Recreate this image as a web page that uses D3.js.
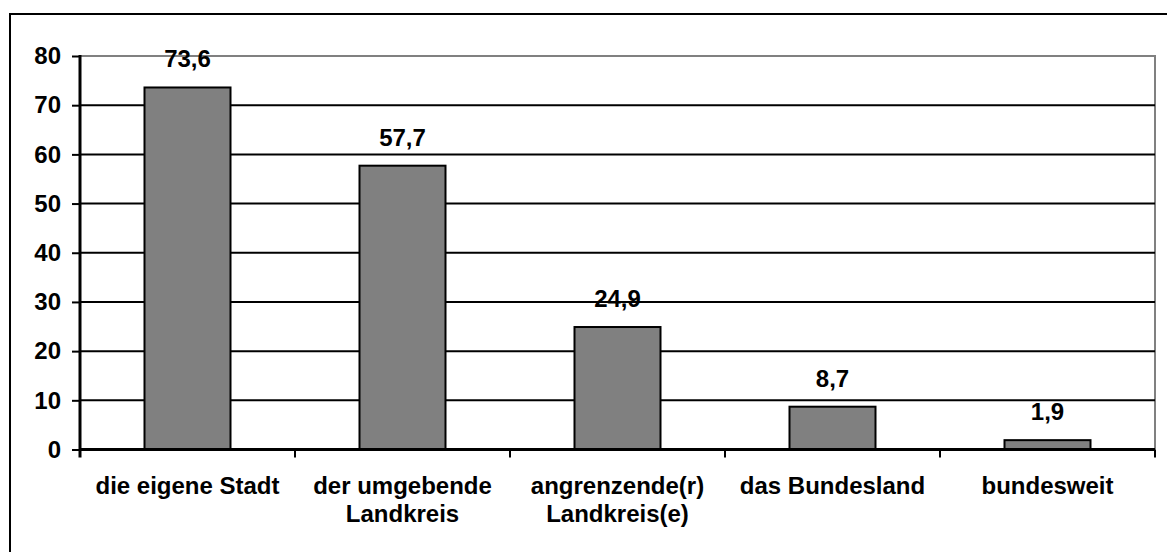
<!DOCTYPE html>
<html>
<head>
<meta charset="utf-8">
<script src="https://cdn.jsdelivr.net/npm/d3@7"></script>
<style>
  html, body { margin: 0; padding: 0; background: #fff; }
  svg { display: block; }
  text { font-family: "Liberation Sans", Arial, sans-serif; font-weight: bold; fill: #000; }
</style>
</head>
<body>
<svg id="chart" width="1167" height="552"></svg>
<script>
// Category labels (one entry per line of text)
const categories = [
  ["die eigene Stadt"],
  ["der umgebende", "Landkreis"],
  ["angrenzende(r)", "Landkreis(e)"],
  ["das Bundesland"],
  ["bundesweit"]
];
const values = [73.6, 57.7, 24.9, 8.7, 1.9];
const yTicks = [0, 10, 20, 30, 40, 50, 60, 70, 80];

const svg = d3.select("#chart");
const W = 1167, H = 552;
const plot = { left: 80, right: 1155, top: 56, bottom: 449.5 };
const fontSize = 24;

// Outer chart frame
svg.append("rect")
  .attr("x", 10).attr("y", 14)
  .attr("width", W + 20).attr("height", H + 20)
  .attr("fill", "#fff").attr("stroke", "#000").attr("stroke-width", 2);

const ids = d3.range(categories.length);
const x = d3.scaleBand().domain(ids).range([plot.left, plot.right])
  .paddingInner(0.6).paddingOuter(0.3);
const y = d3.scaleLinear().domain([0, 80]).range([plot.bottom, plot.top]);

// Plot area border (top and right in grey)
svg.append("path")
  .attr("d", `M${plot.left},${y(80)}H${plot.right}V${plot.bottom}`)
  .attr("fill", "none").attr("stroke", "#808080").attr("stroke-width", 2);

// Horizontal gridlines
svg.append("g").selectAll("line")
  .data(yTicks.filter(t => t > 0 && t < 80))
  .join("line")
  .attr("x1", plot.left).attr("x2", plot.right)
  .attr("y1", d => y(d)).attr("y2", d => y(d))
  .attr("stroke", "#000").attr("stroke-width", 2);

// Bars
svg.append("g").selectAll("rect")
  .data(values)
  .join("rect")
  .attr("x", (d, i) => x(i))
  .attr("y", d => y(d))
  .attr("width", x.bandwidth())
  .attr("height", d => y(0) - y(d))
  .attr("fill", "#808080")
  .attr("stroke", "#000").attr("stroke-width", 2);

// Value labels
const fmt = v => d3.format(".1f")(v).replace(".", ",");
svg.append("g").selectAll("text")
  .data(values)
  .join("text")
  .attr("x", (d, i) => x(i) + x.bandwidth() / 2)
  .attr("y", d => y(d) - 20)
  .attr("text-anchor", "middle")
  .attr("font-size", fontSize)
  .text(fmt);

// Y axis
const yAxis = svg.append("g")
  .attr("transform", `translate(${plot.left},0)`)
  .call(d3.axisLeft(y).tickValues(yTicks).tickSize(8).tickPadding(11).tickFormat(d3.format("d")));
yAxis.select(".domain").remove();
yAxis.selectAll(".tick line").attr("stroke", "#000").attr("stroke-width", 2);
yAxis.selectAll(".tick text")
  .attr("font-size", fontSize)
  .attr("font-family", "Liberation Sans, Arial, sans-serif")
  .attr("font-weight", "bold")
  .attr("fill", "#000");
svg.append("line")
  .attr("x1", plot.left).attr("x2", plot.left)
  .attr("y1", plot.top - 1).attr("y2", plot.bottom + 8)
  .attr("stroke", "#000").attr("stroke-width", 3);

// X axis baseline and category boundary ticks
svg.append("line")
  .attr("x1", plot.left).attr("x2", plot.right)
  .attr("y1", y(0)).attr("y2", y(0))
  .attr("stroke", "#000").attr("stroke-width", 3);
const step = x.step();
const bounds = ids.map(i => x(i) + x.bandwidth() + (step - x.bandwidth()) / 2);
svg.append("g").selectAll("line")
  .data(bounds)
  .join("line")
  .attr("x1", d => d).attr("x2", d => d)
  .attr("y1", y(0)).attr("y2", y(0) + 8)
  .attr("stroke", "#000").attr("stroke-width", 2);

// Category labels
const lab = svg.append("g").selectAll("text")
  .data(categories)
  .join("text")
  .attr("text-anchor", "middle")
  .attr("font-size", fontSize)
  .attr("x", (d, i) => x(i) + x.bandwidth() / 2)
  .attr("y", 494);
lab.selectAll("tspan")
  .data((d, i) => d.map(s => ({ s, cx: x(i) + x.bandwidth() / 2 })))
  .join("tspan")
  .attr("x", d => d.cx)
  .attr("dy", (d, j) => j === 0 ? 0 : 28)
  .text(d => d.s);
</script>
</body>
</html>
